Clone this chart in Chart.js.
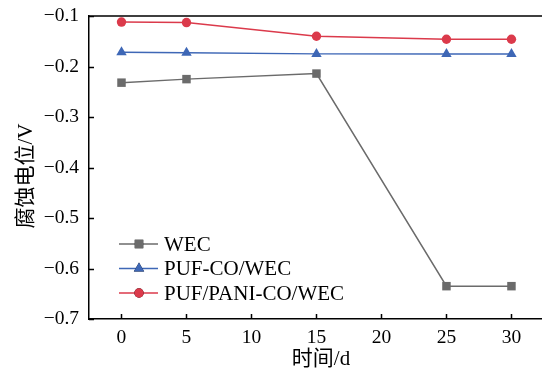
<!DOCTYPE html>
<html>
<head>
<meta charset="utf-8">
<script src="https://cdn.jsdelivr.net/npm/chart.js@4/dist/chart.umd.min.js"></script>
<style>
  html, body { margin: 0; padding: 0; background: #fff; }
  #wrap { width: 542px; height: 372px; }
</style>
</head>
<body>
<div id="wrap"><canvas id="chart" width="542" height="372"></canvas></div>
<script>
// data
const days = [0, 5, 15, 25, 30];
const wec = [-0.232, -0.225, -0.214, -0.635, -0.635];
const pufCo = [-0.172, -0.173, -0.175, -0.175, -0.175];
const pufPani = [-0.112, -0.113, -0.140, -0.146, -0.146];
const xTicks = [0, 5, 10, 15, 20, 25, 30];
const yTicks = [-0.1, -0.2, -0.3, -0.4, -0.5, -0.6, -0.7];
const seriesNames = ['WEC', 'PUF-CO/WEC', 'PUF/PANI-CO/WEC'];
const xTitle = '时间/d';
const yTitle = '腐蚀电位/V';

const FONT = '"Liberation Serif", "Times New Roman", "Noto Sans CJK SC", serif';
const colors = ['#6b6b6b', '#3e67b6', '#db3a4b'];
const markers = ['rect', 'triangle', 'circle'];
const radii = [6, 6, 4.7];

function pts(arr) {
    return days.map((d, i) => ({ x: d, y: arr[i] }));
}

// inward ticks, top frame line, axis titles and the legend
const frame = {
    id: 'frame',
    afterDraw(chart) {
        const ctx = chart.ctx;
        const a = chart.chartArea;
        const xs = chart.scales.x, ys = chart.scales.y;
        ctx.save();
        ctx.strokeStyle = '#000';
        ctx.lineWidth = 1.5;
        ctx.beginPath();
        ctx.moveTo(a.left, a.top);
        ctx.lineTo(a.right, a.top);
        xTicks.forEach(v => {
            const px = Math.round(xs.getPixelForValue(v)) + 0.5;
            ctx.moveTo(px, a.bottom);
            ctx.lineTo(px, a.bottom - 5);
        });
        yTicks.forEach(v => {
            const py = Math.round(ys.getPixelForValue(v)) + 0.5;
            ctx.moveTo(a.left, py);
            ctx.lineTo(a.left + 5, py);
        });
        ctx.stroke();

        ctx.fillStyle = '#000';
        ctx.font = '21px ' + FONT;
        ctx.textAlign = 'center';
        ctx.textBaseline = 'middle';
        ctx.fillText(xTitle, 321, 359);

        ctx.save();
        ctx.translate(26, 176);
        ctx.rotate(-Math.PI / 2);
        ctx.fillText(yTitle, 0, 0);
        ctx.restore();

        // legend
        const lx = 119, ly = 244, gap = 24.5;
        ctx.textAlign = 'left';
        chart.data.datasets.forEach((ds, i) => {
            const y = ly + i * gap;
            ctx.strokeStyle = ds.borderColor;
            ctx.lineWidth = 1.5;
            ctx.beginPath();
            ctx.moveTo(lx, y);
            ctx.lineTo(lx + 39, y);
            ctx.stroke();
            Chart.helpers.drawPoint(ctx, {
                pointStyle: ds.pointStyle,
                radius: ds.pointRadius,
                borderWidth: 0,
                rotation: 0
            }, lx + 20, y);
            ctx.fillStyle = ds.borderColor;
            ctx.fill();
            ctx.fillStyle = '#000';
            ctx.font = '21px ' + FONT;
            ctx.fillText(ds.label, lx + 45, y + 1);
        });
        ctx.restore();
    }
};

new Chart(document.getElementById('chart'), {
    type: 'line',
    data: {
        datasets: seriesNames.map((name, i) => ({
            label: name,
            data: pts([wec, pufCo, pufPani][i]),
            borderColor: colors[i],
            backgroundColor: colors[i],
            borderWidth: 1.5,
            pointStyle: markers[i],
            pointRadius: radii[i],
            pointBorderWidth: 0,
            pointBackgroundColor: colors[i],
            fill: false
        }))
    },
    options: {
        responsive: false,
        animation: false,
        layout: { autoPadding: false, padding: { top: 16, right: 0, left: 0, bottom: 0 } },
        plugins: { legend: { display: false }, tooltip: { enabled: false } },
        scales: {
            x: {
                type: 'linear',
                min: -2.5,
                max: 32.35,
                afterBuildTicks: s => { s.ticks = xTicks.map(v => ({ value: v })); },
                afterFit: s => { s.height = 53; s.paddingLeft = 0; s.paddingRight = 0; },
                grid: { display: false, drawTicks: false, tickLength: 0 },
                border: { display: true, color: '#000', width: 1.5 },
                ticks: {
                    color: '#000',
                    padding: 7,
                    font: { family: FONT, size: 19.5 }
                }
            },
            y: {
                min: -0.7,
                max: -0.1,
                afterBuildTicks: s => { s.ticks = yTicks.map(v => ({ value: v })); },
                afterFit: s => { s.width = 89; s.paddingTop = 0; s.paddingBottom = 0; },
                grid: { display: false, drawTicks: false, tickLength: 0 },
                border: { display: true, color: '#000', width: 1.5 },
                ticks: {
                    color: '#000',
                    padding: 10,
                    font: { family: FONT, size: 19.5 },
                    callback: v => '\u2212' + Math.abs(v).toFixed(1)
                }
            }
        }
    },
    plugins: [frame]
});
</script>
</body>
</html>
